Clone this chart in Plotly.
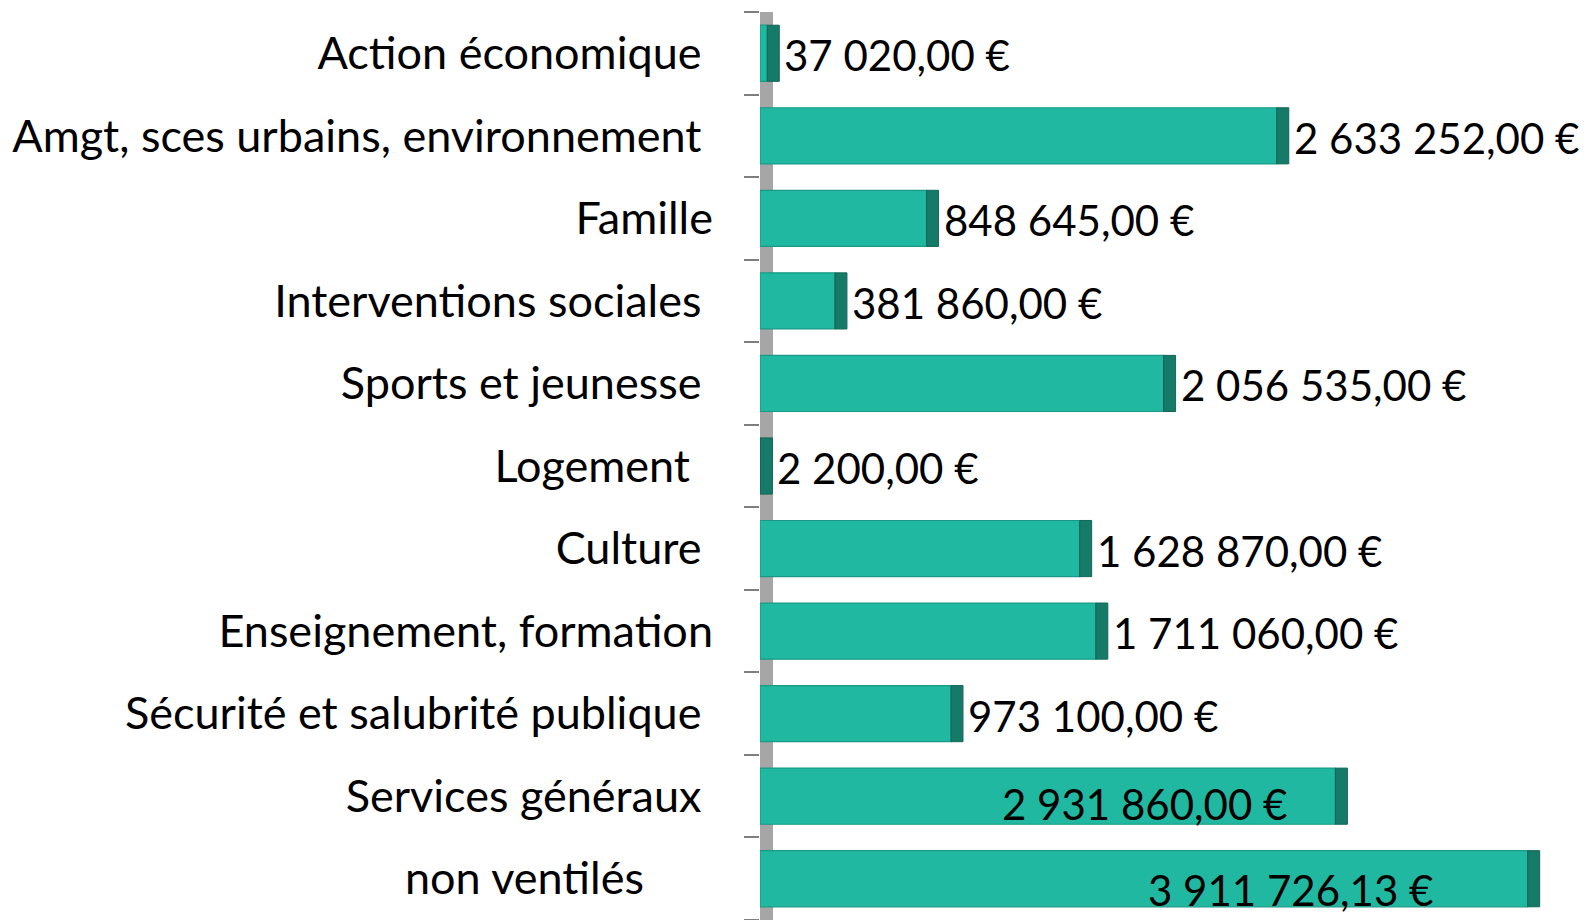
import plotly.graph_objects as go

categories = [
    "Action économique",
    "Amgt, sces urbains, environnement",
    "Famille",
    "Interventions sociales",
    "Sports et jeunesse",
    "Logement",
    "Culture",
    "Enseignement, formation",
    "Sécurité et salubrité publique",
    "Services généraux",
    "non ventilés",
]
values = [37020.00, 2633252.00, 848645.00, 381860.00, 2056535.00, 2200.00,
          1628870.00, 1711060.00, 973100.00, 2931860.00, 3911726.13]
value_labels = ["37 020,00 €", "2 633 252,00 €", "848 645,00 €", "381 860,00 €",
                "2 056 535,00 €", "2 200,00 €", "1 628 870,00 €", "1 711 060,00 €",
                "973 100,00 €", "2 931 860,00 €", "3 911 726,13 €"]

# style: trailing padding of category labels, label placement
label_pad = [1, 1, 0, 1, 1, 2, 1, 0, 1, 1, 6]
inside = [False] * 9 + [True, True]
inside_shift = {9: (-46, -8), 10: (-93, -11)}

FONT = "Lato"
BAR = "#20B8A0"
CAP = "#167A69"
EDGE = "#1A9A86"

ticktext = [c + "\u00a0" * p for c, p in zip(categories, label_pad)]

fig = go.Figure()
fig.add_trace(go.Bar(
    y=categories, x=values, orientation="h",
    marker=dict(color=BAR, line=dict(color=EDGE, width=1.2)),
    width=0.68, hoverinfo="skip",
))

shapes = []
# grey 3D wall behind the bars
shapes.append(dict(type="rect", xref="x", yref="paper", xsizemode="pixel",
                   xanchor=0, x0=-3, x1=13, y0=0, y1=1,
                   fillcolor="#A6A6A6", line=dict(width=0), layer="below"))
# dark end caps (side face of 3D bars)
for i, v in enumerate(values):
    shapes.append(dict(type="rect", xref="x", yref="y", xsizemode="pixel",
                       xanchor=v, x0=0, x1=12, y0=i - 0.34, y1=i + 0.34,
                       fillcolor=CAP, line=dict(color="#136657", width=1),
                       layer="above"))

annotations = []
for i, (c, v, t) in enumerate(zip(categories, values, value_labels)):
    if inside[i]:
        xs, ys = inside_shift[i]
        annotations.append(dict(x=v, y=c, xref="x", yref="y", text=t,
                                showarrow=False, xanchor="right",
                                xshift=xs, yshift=ys,
                                font=dict(family=FONT, size=42, color="#000")))
    else:
        annotations.append(dict(x=v, y=c, xref="x", yref="y", text=t,
                                showarrow=False, xanchor="left",
                                xshift=15, yshift=-2,
                                font=dict(family=FONT, size=42, color="#000")))

fig.update_layout(
    width=1587, height=920,
    margin=dict(l=760, r=42, t=12, b=0),
    paper_bgcolor="white", plot_bgcolor="white",
    showlegend=False,
    shapes=shapes, annotations=annotations,
    xaxis=dict(range=[0, 4000000], visible=False, showgrid=False, zeroline=False),
    yaxis=dict(
        type="category",
        range=[10.5, -0.5],
        tickmode="array", tickvals=categories, ticktext=ticktext,
        ticks="outside", ticklen=15, tickwidth=2, tickcolor="#7F7F7F",
        tickson="boundaries",
        ticklabelstandoff=46,
        showgrid=False, zeroline=False, showline=False,
        tickfont=dict(family=FONT, size=45, color="#000"),
    ),
)

fig.write_html("out.html", config={"displayModeBar": False},
               post_script="document.body.style.margin='0';")
